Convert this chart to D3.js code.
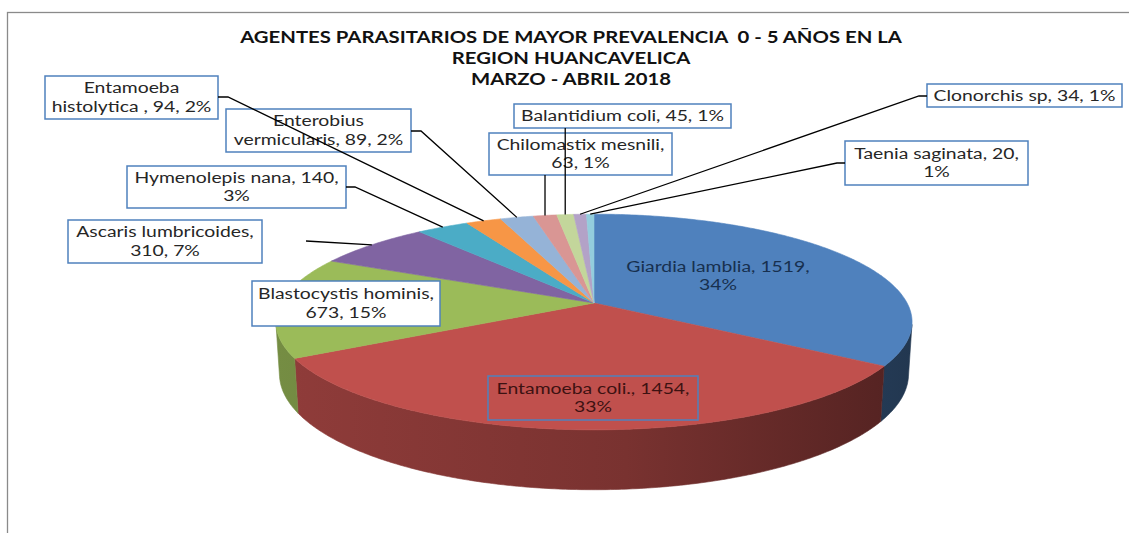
<!DOCTYPE html>
<html>
<head>
<meta charset="utf-8">
<script src="https://cdn.jsdelivr.net/npm/d3@7"></script>
<style>
body { margin: 0; background: #fff; }
text { font-family: Lato, "Open Sans", sans-serif; white-space: pre; }
</style>
</head>
<body>
<svg id="chart" width="1129" height="533"></svg>
<script>
var titleLines = ["AGENTES PARASITARIOS DE MAYOR PREVALENCIA  0 - 5 AÑOS EN LA", "REGION HUANCAVELICA", "MARZO - ABRIL 2018"];
var names = ["Giardia lamblia", "Entamoeba coli.", "Blastocystis hominis", "Ascaris lumbricoides", "Hymenolepis nana", "Entamoeba histolytica ", "Enterobius vermicularis", "Chilomastix mesnili", "Balantidium coli", "Clonorchis sp", "Taenia saginata"];
var values = [1519, 1454, 673, 310, 140, 94, 89, 63, 45, 34, 20];
var percents = [34, 33, 15, 7, 3, 2, 2, 1, 1, 1, 1];
var colors = ["#4F81BD", "#C0504D", "#9BBB59", "#8064A2", "#4BACC6", "#F79646", "#95B3D7", "#D99694", "#C3D69B", "#B3A2C7", "#93CDDD"];

// label layout: box [x0, y0, x1, y1], words on first line, leader start points
var labelLayout = [
    { box: null, cx: 718, cy: 276, brk: 3, color: "#17304f" },
    { box: [488, 376, 698, 420], brk: 3, fill: "none", color: "#3d1212" },
    { box: [252, 281, 440, 326], brk: 2, fill: "#fff" },
    { box: [68, 220, 262, 263], brk: 2, fill: "#fff", leader: [[306, 241]] },
    { box: [127, 166, 346, 208], brk: 3, fill: "#fff", leader: [[346, 187], [355, 187]] },
    { box: [45, 76, 218, 119], brk: 1, fill: "#fff", leader: [[218, 97], [228, 97]] },
    { box: [226, 109, 411, 152], brk: 1, fill: "#fff", leader: [[411, 131], [421, 131]] },
    { box: [489, 133, 672, 175], brk: 2, fill: "#fff", leader: "down" },
    { box: [514, 104, 731, 128], brk: 99, fill: "#fff", leader: "down" },
    { box: [927, 84, 1122, 107], brk: 99, fill: "#fff", leader: [[927, 96], [919, 96]] },
    { box: [845, 141, 1028, 185], brk: 3, fill: "#fff", leader: [[845, 163], [837, 163]] }
];

var svg = d3.select("#chart");

// chart frame
svg.append("rect")
    .attr("x", 7.5).attr("y", 12.5)
    .attr("width", 1200).attr("height", 600)
    .style("fill", "none").style("stroke", "#8a8a8a").style("stroke-width", 1.3);

var title = svg.append("text")
    .style("text-anchor", "middle")
    .style("font-weight", "bold")
    .style("font-size", "17px")
    .style("fill", "#111");
title.selectAll("tspan")
    .data(titleLines)
    .enter()
    .append("tspan")
    .attr("x", 0)
    .attr("y", function(d, i) { return i * 21 + 6; })
    .text(function(d) { return d; });
// the source font is wide, so stretch to the same width
var titleScale = 662 / title.select("tspan").node().getComputedTextLength();
title.attr("transform", "translate(571,37) scale(" + titleScale + ",1)");

// perspective projection of a tilted disc
var cx = 594, cy = 303;
var D = 5.35, f = 1675, elev = 19.5 * Math.PI / 180, thick = 0.174;
function project(a, h) {
    var X = Math.sin(a), Z = -Math.cos(a);
    var depth = D - (h * Math.sin(elev) + Z * Math.cos(elev));
    var v = h * Math.cos(elev) - Z * Math.sin(elev);
    return [cx + f * X / depth, cy - f * v / depth];
}
var visLo = Math.acos(-1 / (D * Math.cos(elev)));
var visHi = 2 * Math.PI - visLo;

var data = names.map(function(n, i) { return { name: n, value: values[i], pct: percents[i], color: colors[i], i: i }; });
var arcs = d3.pie().sort(null).value(function(d) { return d.value; })(data);

function arcPoints(a0, a1, h) {
    var n = Math.max(2, Math.ceil((a1 - a0) / 0.01));
    return d3.range(n + 1).map(function(k) { return project(a0 + (a1 - a0) * k / n, h); });
}
var line = d3.line();

// side wall gradients
var defs = svg.append("defs");
arcs.forEach(function(d) {
    var g = defs.append("linearGradient")
        .attr("id", "side" + d.index)
        .attr("gradientUnits", "userSpaceOnUse")
        .attr("x1", 276).attr("x2", 912).attr("y1", 0).attr("y2", 0);
    g.append("stop").attr("offset", "0%").attr("stop-color", d3.color(d.data.color).darker(0.8));
    g.append("stop").attr("offset", "55%").attr("stop-color", d3.color(d.data.color).darker(1.3));
    g.append("stop").attr("offset", "100%").attr("stop-color", d3.color(d.data.color).darker(2.4));
});

var sides = arcs.filter(function(d) { return d.endAngle > visLo && d.startAngle < visHi; });
svg.selectAll(".side")
    .data(sides)
    .enter()
    .append("path")
    .attr("class", "side")
    .attr("d", function(d) {
        var a0 = Math.max(d.startAngle, visLo), a1 = Math.min(d.endAngle, visHi);
        var pts = arcPoints(a0, a1, 0).concat(arcPoints(a0, a1, -thick).reverse());
        return line(pts) + "Z";
    })
    .style("fill", function(d) { return "url(#side" + d.index + ")"; })
    .style("stroke", function(d) { return "url(#side" + d.index + ")"; })
    .style("stroke-width", 0.6);

svg.selectAll(".slice")
    .data(arcs)
    .enter()
    .append("path")
    .attr("class", "slice")
    .attr("d", function(d) {
        return line([[cx, cy]].concat(arcPoints(d.startAngle, d.endAngle, 0))) + "Z";
    })
    .style("fill", function(d) { return d.data.color; })
    .style("stroke", function(d) { return d.data.color; })
    .style("stroke-width", 0.6);

// labels
function labelLines(d) {
    var words = (d.name + ", " + d.value + ", " + d.pct + "%").split(" ");
    var brk = labelLayout[d.i].brk;
    var out = [words.slice(0, brk).join(" ")];
    if (brk < words.length) out.push(words.slice(brk).join(" "));
    return out;
}

var labels = svg.selectAll(".label")
    .data(data)
    .enter()
    .append("g")
    .attr("class", "label");

labels.filter(function(d) { return labelLayout[d.i].box; })
    .append("rect")
    .attr("x", function(d) { return labelLayout[d.i].box[0]; })
    .attr("y", function(d) { return labelLayout[d.i].box[1]; })
    .attr("width", function(d) { var b = labelLayout[d.i].box; return b[2] - b[0]; })
    .attr("height", function(d) { var b = labelLayout[d.i].box; return b[3] - b[1]; })
    .style("fill", function(d) { return labelLayout[d.i].fill; })
    .style("stroke", "#4F81BD")
    .style("stroke-width", 1.5);

labels.each(function(d) {
    var L = labelLayout[d.i];
    var lines = labelLines(d);
    var t = d3.select(this).append("text")
        .attr("class", "ltext")
        .style("text-anchor", "middle")
        .style("font-size", "15px")
        .style("fill", L.color || "#262626");
    t.selectAll("tspan")
        .data(lines)
        .enter()
        .append("tspan")
        .attr("x", 0)
        .attr("y", function(s, k) { return (k - (lines.length - 1) / 2) * 18.2 + 5; })
        .text(function(s) { return s; });
});

// one common stretch, matched on the single-line "Clonorchis" label
var refLen = labels.filter(function(d) { return d.i === 9; }).select("tspan").node().getComputedTextLength();
var labelScale = 182 / refLen;
labels.select(".ltext")
    .attr("transform", function(d) {
        var L = labelLayout[d.i];
        var lx = L.box ? (L.box[0] + L.box[2]) / 2 : L.cx;
        var ly = L.box ? (L.box[1] + L.box[3]) / 2 : L.cy;
        return "translate(" + lx + "," + ly + ") scale(" + labelScale + ",1)";
    });

// leader lines
var leaders = arcs.filter(function(d) { return labelLayout[d.index].leader; });
svg.selectAll(".leader")
    .data(leaders)
    .enter()
    .append("path")
    .attr("class", "leader")
    .attr("d", function(d) {
        var L = labelLayout[d.index];
        var end = project((d.startAngle + d.endAngle) / 2, 0);
        var pts = L.leader === "down" ? [[end[0], L.box[3]]] : L.leader.slice();
        pts.push(end);
        return line(pts);
    })
    .style("fill", "none")
    .style("stroke", "#000")
    .style("stroke-width", 1.3);
</script>
</body>
</html>
